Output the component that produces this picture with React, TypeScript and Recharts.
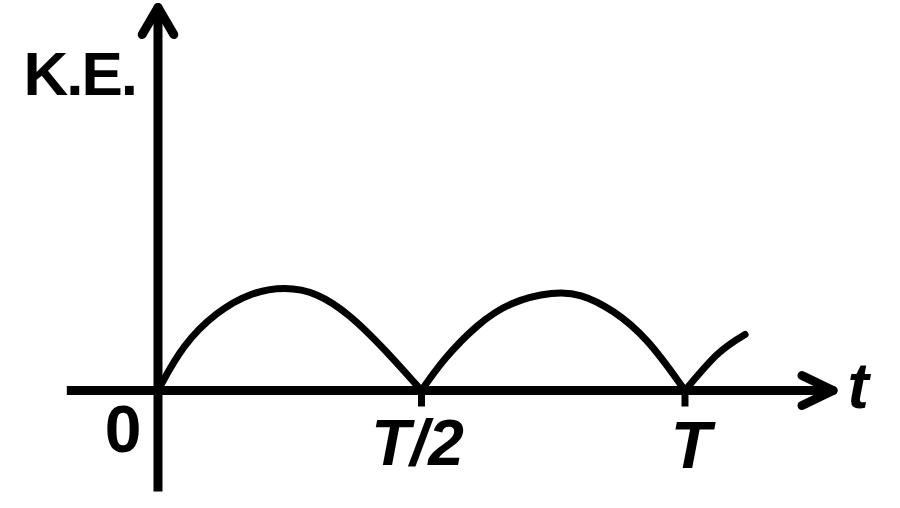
import React from 'react';
import { LineChart, Line, XAxis, YAxis, ReferenceLine, ReferenceDot } from 'recharts';

// time in units of T, kinetic energy in arbitrary units
const hump1 = [
  { t: 0, ke: 0 },
  { t: 0.047, ke: 0.46 },
  { t: 0.112, ke: 0.79 },
  { t: 0.175, ke: 0.98 },
  { t: 0.241, ke: 1.04 },
  { t: 0.302, ke: 0.98 },
  { t: 0.364, ke: 0.76 },
  { t: 0.427, ke: 0.43 },
  { t: 0.5, ke: 0 },
];

const hump2 = [
  { t: 0.5, ke: 0 },
  { t: 0.541, ke: 0.31 },
  { t: 0.605, ke: 0.66 },
  { t: 0.668, ke: 0.89 },
  { t: 0.752, ke: 0.99 },
  { t: 0.801, ke: 0.97 },
  { t: 0.863, ke: 0.81 },
  { t: 0.928, ke: 0.53 },
  { t: 1.0, ke: 0 },
];

const hump3 = [
  { t: 1.0, ke: 0 },
  { t: 1.061, ke: 0.36 },
  { t: 1.114, ke: 0.56 },
];

const tickMarks = [0.5, 1];

// axis extents
const X_MIN = -0.173;
const X_MAX = 1.281;
const Y_MIN = -1.01;
const Y_MAX = 3.83;

const W = 900;
const H = 508;

const fontFamily = '"Liberation Sans", Arial, sans-serif';

const makeText = (text: string, dx: number, dy: number, anchor: string, italic = false, spacing = 0, size = 64) => (props: any) => (
  <text
    x={props.cx + dx}
    y={props.cy + dy}
    textAnchor={anchor}
    fontFamily={fontFamily}
    fontWeight="bold"
    fontStyle={italic ? 'italic' : 'normal'}
    fontSize={size}
    letterSpacing={spacing}
    fill="#000"
  >
    {text}
  </text>
);

const axisStyle = { stroke: '#000', strokeWidth: 9, strokeLinecap: 'round' as const };

export default function App() {
  return (
    <div style={{ position: 'absolute', left: 0, top: 0, width: W, height: H, background: '#fff' }}>
      <LineChart width={W} height={H} margin={{ top: 0, right: 0, bottom: 0, left: 0 }}>
        <XAxis type="number" dataKey="t" domain={[-0.2998, 1.408]} hide allowDataOverflow />
        <YAxis type="number" domain={[-1.175, 3.905]} hide allowDataOverflow />

        {/* axes */}
        <ReferenceLine segment={[{ x: X_MIN, y: 0 }, { x: X_MAX, y: 0 }]} {...axisStyle} strokeLinecap="butt" />
        <ReferenceLine segment={[{ x: 0, y: Y_MIN }, { x: 0, y: Y_MAX }]} {...axisStyle} strokeLinecap="butt" />
        {/* arrow heads */}
        <ReferenceLine segment={[{ x: X_MAX, y: 0 }, { x: 1.222, y: 0.15 }]} {...axisStyle} />
        <ReferenceLine segment={[{ x: X_MAX, y: 0 }, { x: 1.222, y: -0.15 }]} {...axisStyle} />
        <ReferenceLine segment={[{ x: 0, y: Y_MAX }, { x: -0.03, y: 3.56 }]} {...axisStyle} />
        <ReferenceLine segment={[{ x: 0, y: Y_MAX }, { x: 0.03, y: 3.56 }]} {...axisStyle} />
        {tickMarks.map((x) => (
          <ReferenceLine key={x} segment={[{ x, y: 0 }, { x, y: -0.16 }]} stroke="#000" strokeWidth={7} />
        ))}

        <Line data={hump1} dataKey="ke" type="basis" stroke="#000" strokeWidth={7} dot={false} activeDot={false} isAnimationActive={false} />
        <Line data={hump2} dataKey="ke" type="basis" stroke="#000" strokeWidth={7} dot={false} activeDot={false} isAnimationActive={false} />
        <Line data={hump3} dataKey="ke" type="natural" stroke="#000" strokeWidth={7} strokeLinecap="round" dot={false} activeDot={false} isAnimationActive={false} />

        {/* labels */}
        <ReferenceDot x={0} y={Y_MAX} r={0} shape={makeText('K.E.', -22, 87, 'end', false, -2, 62)} />
        <ReferenceDot x={0} y={0} r={0} shape={makeText('0', -35, 61, 'middle', false, 0, 66)} />
        <ReferenceDot x={0.5} y={0} r={0} shape={makeText('T/2', -4, 74, 'middle', true)} />
        <ReferenceDot x={1} y={0} r={0} shape={makeText('T', 6, 77, 'middle', true, 0, 66)} />
        <ReferenceDot x={X_MAX} y={0} r={0} shape={makeText('t', 25, 17, 'middle', true)} />
      </LineChart>
    </div>
  );
}
